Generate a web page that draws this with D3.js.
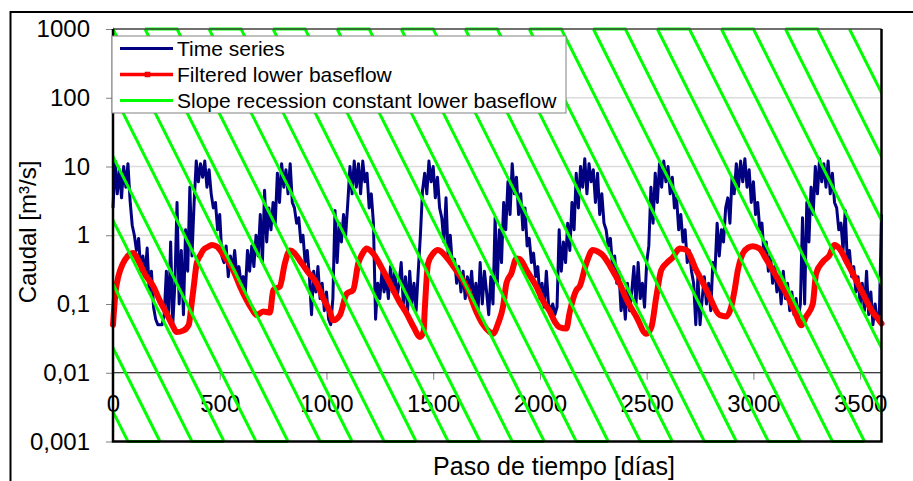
<!DOCTYPE html>
<html>
<head>
<meta charset="utf-8">
<script src="https://cdn.jsdelivr.net/npm/d3@7"></script>
<style>
  body { margin: 0; background: #fff; }
  text { font-family: "Liberation Sans", Arial, sans-serif; }
</style>
</head>
<body>
<div id="chart"></div>
<script>
// daily flow, read every 10 days
const stepDays = 10;
const timeSeries = [
  2.5, 12, 4, 9, 3.5, 10, 5, 11, 3.2, 1.4,
  1.0, 0.6, 0.9, 0.3, 0.5, 0.25, 0.65, 0.15, 0.3, 0.09,
  0.06, 0.05, 0.05, 0.05, 0.07, 0.3, 0.06, 0.8, 0.05, 0.2,
  3.0, 0.1, 0.6, 0.07, 1.2, 0.3, 5, 0.5, 3, 12,
  6, 11, 7, 12, 5, 9, 4, 2.5, 3, 1.2,
  2, 0.5, 0.4, 0.7, 0.25, 0.5, 0.3, 0.6, 0.25, 0.35,
  0.2, 0.25, 0.15, 0.6, 0.3, 0.7, 0.35, 1.0, 0.5, 2.0,
  0.4, 4.5, 0.8, 2.5, 1.2, 3, 1.5, 8, 3, 11,
  5, 9, 4, 11, 3, 2.5, 1.5, 1.8, 0.8, 1.0,
  0.4, 0.6, 0.25, 0.07, 0.3, 0.15, 0.35, 0.12, 0.2, 0.08,
  0.15, 0.06, 0.05, 0.12, 2.3, 0.4, 1.5, 0.8, 2, 1.0,
  3, 10, 4, 12, 5, 11, 4, 12, 6, 8,
  2.5, 4, 1.5, 0.06, 0.2, 0.12, 0.3, 0.15, 0.25, 0.12,
  0.35, 0.15, 0.3, 0.12, 0.2, 0.4, 0.1, 0.25, 0.08, 0.3,
  0.1, 0.2, 0.08, 0.3, 1, 4.5, 8, 4, 12, 6,
  10, 3.5, 7, 2.5, 1.8, 0.8, 3.5, 0.5, 1, 0.35,
  0.45, 0.2, 0.35, 0.15, 0.3, 0.12, 0.25, 0.15, 0.3, 0.1,
  0.2, 0.08, 0.4, 0.1, 0.3, 0.15, 0.07, 0.25, 0.1, 1.8,
  0.2, 1.2, 0.4, 3, 1.2, 6, 2, 11, 4, 7,
  2, 4, 1.2, 2.5, 0.7, 0.9, 0.4, 0.55, 0.25, 0.35,
  0.12, 0.2, 0.09, 0.3, 0.1, 0.08, 0.1, 0.07, 0.09, 1.2,
  0.3, 0.8, 0.4, 1.5, 0.6, 3, 1.2, 8, 2.5, 10,
  5, 13, 4, 11, 6, 9, 3, 8, 2, 4,
  1.5, 1.2, 0.7, 0.9, 0.35, 0.5, 0.2, 0.3, 0.08, 0.15,
  0.06, 0.2, 0.08, 0.15, 0.35, 0.1, 0.4, 0.12, 0.2, 0.09,
  0.4, 0.7, 5, 1.5, 8, 3, 11, 5, 12, 6,
  10, 4, 7, 2.5, 3.5, 1.2, 2, 0.8, 1.2, 0.4,
  0.6, 0.3, 0.2, 0.05, 0.25, 0.05, 0.12, 0.25, 0.1, 0.2,
  0.08, 0.4, 0.3, 1.5, 0.5, 1.2, 0.8, 2.5, 3.5, 1.5,
  7, 4, 11, 5, 12, 6, 13, 5, 9, 3,
  6, 2, 3, 1.2, 1.5, 0.5, 0.8, 0.3, 0.5, 0.2,
  0.35, 0.15, 0.25, 0.1, 0.3, 0.12, 0.2, 0.08, 0.15, 0.07,
  0.12, 0.06, 0.1, 1.8, 0.1, 3, 0.8, 5, 2, 10,
  4, 13, 6, 11, 5, 12, 4, 8, 3, 2.5,
  1.2, 1.5, 0.6, 2.3, 0.4, 0.6, 0.25, 0.35, 0.15, 0.25,
  0.1, 0.2, 0.08, 0.3, 0.07, 0.15, 0.05, 0.1, 0.06, 0.07,
  2.0
];

// filtered lower baseflow
const baseDays = [
  0, 12, 25, 45, 70, 95, 120, 150, 189, 220, 251, 280, 298, 329, 355, 368, 380, 392, 410, 423,
  445, 462, 485, 520, 563, 595, 626, 650, 673, 704, 735, 751, 782, 805, 829, 850, 875, 910, 954, 985,
  1016, 1031, 1063, 1094, 1125, 1149, 1170, 1188, 1219, 1260, 1297, 1340, 1375, 1410, 1437, 1455, 1460, 1476, 1499, 1523,
  1562, 1610, 1656, 1700, 1734, 1765, 1780, 1804, 1827, 1843, 1866, 1890, 1905, 1940, 1983, 2015, 2046, 2070, 2092, 2124,
  2139, 2171, 2186, 2217, 2248, 2270, 2295, 2330, 2373, 2410, 2451, 2498, 2522, 2545, 2568, 2592, 2623, 2654, 2686, 2732,
  2765, 2795, 2842, 2873, 2896, 2912, 2927, 2950, 2975, 2997, 3028, 3060, 3091, 3130, 3169, 3200, 3224, 3247, 3278, 3294,
  3325, 3356, 3380, 3403, 3435, 3465, 3500, 3528, 3560, 3575, 3600
];
const baseFlow = [
  0.05, 0.15, 0.25, 0.38, 0.5, 0.55, 0.42, 0.27, 0.18, 0.11, 0.073, 0.048, 0.039, 0.041, 0.05, 0.10, 0.2, 0.39, 0.52, 0.61,
  0.68, 0.72, 0.69, 0.5, 0.31, 0.18, 0.114, 0.085, 0.069, 0.078, 0.075, 0.16, 0.18, 0.39, 0.6, 0.55, 0.43, 0.3, 0.2, 0.12,
  0.078, 0.058, 0.069, 0.14, 0.16, 0.39, 0.55, 0.64, 0.54, 0.33, 0.2, 0.11, 0.073, 0.045, 0.033, 0.04, 0.078, 0.39, 0.54, 0.61,
  0.48, 0.3, 0.18, 0.08, 0.05, 0.039, 0.037, 0.052, 0.091, 0.2, 0.28, 0.46, 0.45, 0.3, 0.18, 0.11, 0.078, 0.055, 0.046, 0.044,
  0.075, 0.16, 0.18, 0.39, 0.61, 0.58, 0.51, 0.35, 0.2, 0.11, 0.066, 0.037, 0.046, 0.127, 0.31, 0.39, 0.48, 0.64, 0.61, 0.31,
  0.2, 0.127, 0.069, 0.066, 0.091, 0.16, 0.31, 0.54, 0.66, 0.69, 0.64, 0.45, 0.31, 0.19, 0.114, 0.07, 0.049, 0.066, 0.1, 0.28,
  0.41, 0.51, 0.72, 0.64, 0.42, 0.28, 0.17, 0.114, 0.075, 0.066, 0.052
];

// recession lines: [start at top, leaves 1000, reaches 0.001, end at bottom]
const recessionLines = [
  [-1050, -900, 70, 220], [-750, -750, 220, 220], [-750, -600, 370, 520], [-450, -450, 520, 520],
  [-450, -300, 670, 820], [-150, -150, 820, 820], [-150, 0, 970, 1120], [150, 150, 1120, 1120],
  [150, 300, 1270, 1420], [450, 450, 1420, 1420], [450, 600, 1570, 1720], [750, 750, 1720, 1720],
  [750, 900, 1870, 2020], [1050, 1050, 2020, 2020], [1050, 1200, 2170, 2320], [1350, 1350, 2320, 2320],
  [1350, 1500, 2470, 2620], [1650, 1650, 2620, 2620], [1650, 1800, 2770, 2920], [1950, 1950, 2920, 2920],
  [1950, 2100, 3070, 3220], [2250, 2250, 3220, 3220], [2250, 2400, 3370, 3520], [2550, 2550, 3520, 3520],
  [2550, 2700, 3670, 3820], [2850, 2850, 3820, 3820], [2850, 3000, 3970, 4120], [3150, 3150, 4120, 4120],
  [3150, 3300, 4270, 4420], [3450, 3450, 4420, 4420]
];

const yTicks = [0.001, 0.01, 0.1, 1, 10, 100, 1000];
const yTickLabels = ["0,001", "0,01", "0,1", "1", "10", "100", "1000"];
const xTicks = [0, 500, 1000, 1500, 2000, 2500, 3000, 3500];
const legendLabels = ["Time series", "Filtered lower baseflow", "Slope recession constant lower baseflow"];
const colors = ["#000080", "#ff0000", "#00ff00"];

const width = 913, height = 481;
const plot = { left: 113, right: 881.5, top: 29, bottom: 441.5 };

const x = d3.scaleLinear().domain([0, 3600]).range([plot.left, plot.right]);
const y = d3.scaleLog().domain([0.001, 1000]).range([plot.bottom, plot.top]);

const svg = d3.select("#chart").append("svg")
  .attr("width", width).attr("height", height);

// chart border
svg.append("rect")
  .attr("x", 10.5).attr("y", 12).attr("width", 2000).attr("height", 2000)
  .attr("fill", "none").attr("stroke", "#000").attr("stroke-width", 2);

svg.append("clipPath").attr("id", "clip")
  .append("rect")
  .attr("x", plot.left).attr("y", plot.top - 2)
  .attr("width", plot.right - plot.left).attr("height", plot.bottom - plot.top + 4);

// gridlines
svg.append("g")
  .selectAll("line")
  .data([0.1, 1, 10, 100])
  .join("line")
  .attr("x1", plot.left).attr("x2", plot.right)
  .attr("y1", d => y(d)).attr("y2", d => y(d))
  .attr("stroke", "#dcdcdc").attr("stroke-width", 1.5);

// y axis
const yAxis = svg.append("g")
  .attr("transform", `translate(${plot.left},0)`)
  .call(d3.axisLeft(y).tickValues(yTicks).tickFormat((d, i) => yTickLabels[i]).tickSize(7).tickPadding(16));
yAxis.select(".domain").remove();
yAxis.selectAll("line").attr("stroke", "#808080");
yAxis.selectAll("text").attr("font-size", "24px").attr("fill", "#000")
  .style("font-family", "'Liberation Sans', Arial, sans-serif");

// x axis crossing at 0.01
const xAxis = svg.append("g")
  .attr("transform", `translate(0,${y(0.01)})`)
  .call(d3.axisBottom(x).tickValues(xTicks).tickFormat(d3.format("d")).tickSize(7).tickPadding(15));
xAxis.select(".domain").remove();
xAxis.selectAll("line").attr("stroke", "#808080");
xAxis.selectAll("text").attr("font-size", "24px").attr("fill", "#000")
  .style("font-family", "'Liberation Sans', Arial, sans-serif");

svg.append("line")
  .attr("x1", plot.left).attr("x2", plot.right)
  .attr("y1", y(0.01)).attr("y2", y(0.01))
  .attr("stroke", "#000").attr("stroke-width", 1);

// time series
svg.append("path")
  .datum(timeSeries)
  .attr("fill", "none")
  .attr("stroke", colors[0])
  .attr("stroke-width", 3)
  .attr("stroke-linejoin", "round")
  .attr("d", d3.line().x((d, i) => x(i * stepDays)).y(d => y(d)));

// baseflow
svg.append("path")
  .datum(baseDays.map((d, i) => [d, baseFlow[i]]))
  .attr("fill", "none")
  .attr("stroke", colors[1])
  .attr("stroke-width", 6)
  .attr("stroke-linejoin", "round")
  .attr("stroke-linecap", "round")
  .attr("d", d3.line().curve(d3.curveMonotoneX).x(d => x(d[0])).y(d => y(d[1])));

// recession lines
svg.append("g")
  .attr("clip-path", "url(#clip)")
  .selectAll("path")
  .data(recessionLines)
  .join("path")
  .attr("fill", "none")
  .attr("stroke", colors[2])
  .attr("stroke-width", 3)
  .attr("d", d => d3.line().x(p => x(p[0])).y(p => y(p[1]))(
    [[d[0], 1000], [d[1], 1000], [d[2], 0.001], [d[3], 0.001]]));

// plot border
svg.append("line")
  .attr("x1", plot.left).attr("x2", plot.right)
  .attr("y1", plot.top).attr("y2", plot.top)
  .attr("stroke", "#404040").attr("stroke-width", 1.5);
svg.append("path")
  .attr("d", `M${plot.left},${plot.top}V${plot.bottom}H${plot.right}V${plot.top}`)
  .attr("fill", "none").attr("stroke", "#000").attr("stroke-width", 2.5);

// legend
const legend = svg.append("g");
legend.append("rect")
  .attr("x", 112).attr("y", 36).attr("width", 454).attr("height", 77)
  .attr("fill", "#fff").attr("stroke", "#808080").attr("stroke-width", 1);

legendLabels.forEach((label, i) => {
  const ly = 48.5 + i * 26;
  legend.append("line")
    .attr("x1", 120).attr("x2", 173).attr("y1", ly).attr("y2", ly)
    .attr("stroke", colors[i]).attr("stroke-width", i === 1 ? 3.5 : 3);
  if (i === 1) {
    legend.append("rect")
      .attr("x", 145).attr("y", ly - 2.5).attr("width", 5).attr("height", 5)
      .attr("fill", "#ff0000").attr("stroke", "#cc0000").attr("stroke-width", 0.5);
  }
  legend.append("text")
    .attr("x", 177).attr("y", ly).attr("dy", "0.36em")
    .attr("font-size", "21px")
    .text(label);
});

// axis titles
svg.append("text")
  .attr("x", 554).attr("y", 475)
  .attr("text-anchor", "middle")
  .attr("font-size", "25px")
  .text("Paso de tiempo [días]");

svg.append("text")
  .attr("transform", "translate(36,232) rotate(-90)")
  .attr("text-anchor", "middle")
  .attr("font-size", "24px")
  .text("Caudal [m³/s]");
</script>
</body>
</html>
